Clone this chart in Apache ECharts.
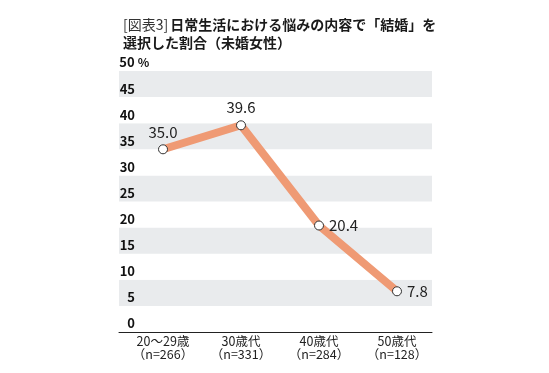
<!DOCTYPE html>
<html><head><meta charset="utf-8">
<script src="https://cdn.jsdelivr.net/npm/echarts@6/dist/echarts.min.js"></script>
<style>html,body{margin:0;padding:0;background:#fff}#c{width:549px;height:373px}</style>
</head><body><div id="c"></div>
<script>
const ageGroups = ['20～29歳', '30歳代', '40歳代', '50歳代'];
const sampleSizes = ['n=266', 'n=331', 'n=284', 'n=128'];
const shares = [35.0, 39.6, 20.4, 7.8];
const yMin = 0, yMax = 50, yStep = 5;
const titleTag = '[図表3]';
const titleLine1 = '日常生活における悩みの内容で「結婚」を';
const titleLine2 = '選択した割合（未婚女性）';

const categories = ageGroups.map((a, i) => a + '\n（' + sampleSizes[i] + '）');
const labelPos = ['top', 'top', 'right', 'right'];
const chart = echarts.init(document.getElementById('c'), null, {renderer: 'canvas'});
const FONT = '"Noto Sans CJK JP", "Noto Sans", sans-serif';
chart.setOption({
  animation: false,
  backgroundColor: '#fff',
  title: {
    left: 118, top: 11,
    text: '{t|' + titleTag + '}{b|' + titleLine1 + '}\n{b|' + titleLine2 + '}',
    textStyle: {
      fontFamily: FONT,
      rich: {
        t: {fontSize: 14, fontWeight: 'normal', color: '#333', lineHeight: 18, fontFamily: FONT, padding: [0, 2, 0, 0]},
        b: {fontSize: 14, fontWeight: 'bold', color: '#1a1a1a', lineHeight: 18, fontFamily: FONT}
      }
    }
  },
  grid: [
    {left: 119, right: 117, top: 71, bottom: 41},
    {left: 124, right: 113, top: 71, bottom: 41}
  ],
  xAxis: [
    {gridIndex: 0, type: 'category', data: categories,
     axisLine: {show: true, lineStyle: {color: '#222', width: 1}},
     axisTick: {show: false}, axisLabel: {show: false}, splitLine: {show: false}},
    {gridIndex: 1, type: 'category', data: categories,
     axisLine: {show: false}, axisTick: {show: false},
     axisLabel: {show: true, margin: 3, color: '#222', fontSize: 12.5, lineHeight: 13, fontFamily: FONT, interval: 0}}
  ],
  yAxis: [
    {gridIndex: 0, type: 'value', min: yMin, max: yMax, interval: yStep,
     axisLine: {show: false}, axisTick: {show: false}, splitLine: {show: false},
     splitArea: {show: true, areaStyle: {color: ['#ffffff', '#e9ebed']}},
     axisLabel: {inside: true, margin: 0, verticalAlign: 'bottom', padding: [0, 0, 2, 0],
       fontFamily: FONT,
       formatter: v => v === yMax ? '{n|' + v + '}{p| %}' : '{n|' + v + '}',
       rich: {
         n: {width: 16, align: 'right', fontSize: 13, fontWeight: 'bold', color: '#111', fontFamily: FONT},
         p: {fontSize: 12, fontWeight: 'bold', color: '#111', fontFamily: FONT}
       }}},
    {gridIndex: 1, type: 'value', min: yMin, max: yMax, interval: yStep, show: false}
  ],
  series: [{
    type: 'line', xAxisIndex: 1, yAxisIndex: 1,
    data: shares.map((v, i) => ({value: v, label: {position: labelPos[i]}})),
    lineStyle: {color: '#ef9a74', width: 8},
    itemStyle: {color: '#fff', borderColor: '#333', borderWidth: 1},
    symbol: 'circle', symbolSize: 9, showAllSymbol: true,
    label: {show: true, formatter: p => p.value.toFixed(1), fontSize: 15, color: '#222', fontFamily: FONT, distance: 5}
  }]
});
</script></body></html>
